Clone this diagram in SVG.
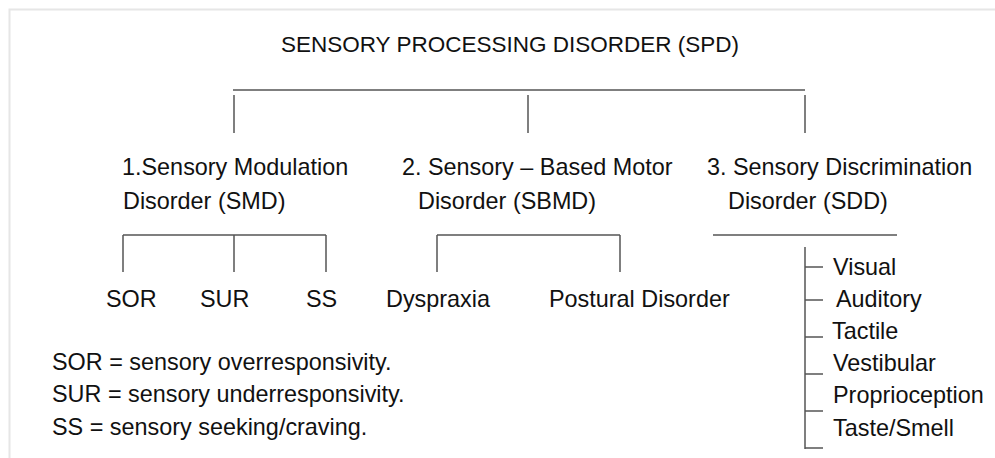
<svg xmlns="http://www.w3.org/2000/svg" width="995" height="458" viewBox="0 0 995 458">
<style>
text{font-family:"Liberation Sans",Arial,sans-serif;font-size:23.4px;fill:#111;}
.t{font-size:22.5px;}
.c line{stroke:#555;stroke-width:1.5;fill:none;}
.frame{stroke:#e6e6e6;stroke-width:2;fill:none;}
</style>
<rect width="995" height="458" fill="#fff"/>
<path class="frame" d="M9.5,458 V9.5 H995"/>
<g id="spd"><text class="t" x="281" y="52">SENSORY PROCESSING DISORDER (SPD)</text></g>
<g id="smd"><text x="122" y="175">1.Sensory Modulation</text><text x="123" y="209">Disorder (SMD)</text></g>
<g id="sbmd"><text x="402" y="175">2. Sensory – Based Motor</text><text x="418" y="209">Disorder (SBMD)</text></g>
<g id="sdd"><text x="707" y="175">3. Sensory Discrimination</text><text x="728" y="209">Disorder (SDD)</text></g>
<g id="sor"><text x="106" y="307">SOR</text></g>
<g id="sur"><text x="200" y="307">SUR</text></g>
<g id="ss"><text x="306" y="307">SS</text></g>
<g id="dyspraxia"><text x="386" y="307">Dyspraxia</text></g>
<g id="postural"><text x="549" y="307">Postural Disorder</text></g>
<g id="visual"><text x="833" y="275">Visual</text></g>
<g id="auditory"><text x="836" y="307">Auditory</text></g>
<g id="tactile"><text x="832" y="339">Tactile</text></g>
<g id="vestibular"><text x="833" y="371">Vestibular</text></g>
<g id="proprioception"><text x="833" y="403">Proprioception</text></g>
<g id="taste"><text x="833" y="436">Taste/Smell</text></g>
<g id="legend">
<text x="52" y="370">SOR = sensory overresponsivity.</text>
<text x="52" y="402">SUR = sensory underresponsivity.</text>
<text x="52" y="435">SS = sensory seeking/craving.</text>
</g>
<g class="c" id="connectors">
<line x1="233" y1="90" x2="805" y2="90"/>
<line x1="234" y1="95" x2="234" y2="133"/>
<line x1="528" y1="95" x2="528" y2="133"/>
<line x1="805" y1="95" x2="805" y2="133"/>
<line x1="123" y1="235" x2="326" y2="235"/>
<line x1="123" y1="235" x2="123" y2="272"/>
<line x1="234" y1="235" x2="234" y2="272"/>
<line x1="326" y1="235" x2="326" y2="272"/>
<line x1="437" y1="235" x2="620" y2="235"/>
<line x1="437" y1="235" x2="437" y2="272"/>
<line x1="620" y1="235" x2="620" y2="272"/>
<line x1="713" y1="235" x2="897" y2="235"/>
<line x1="805" y1="247" x2="805" y2="449"/>
<line x1="805" y1="267" x2="823" y2="267"/>
<line x1="805" y1="300" x2="823" y2="300"/>
<line x1="805" y1="337" x2="823" y2="337"/>
<line x1="805" y1="374" x2="823" y2="374"/>
<line x1="805" y1="411" x2="823" y2="411"/>
<line x1="805" y1="448" x2="823" y2="448"/>
</g>
</svg>
